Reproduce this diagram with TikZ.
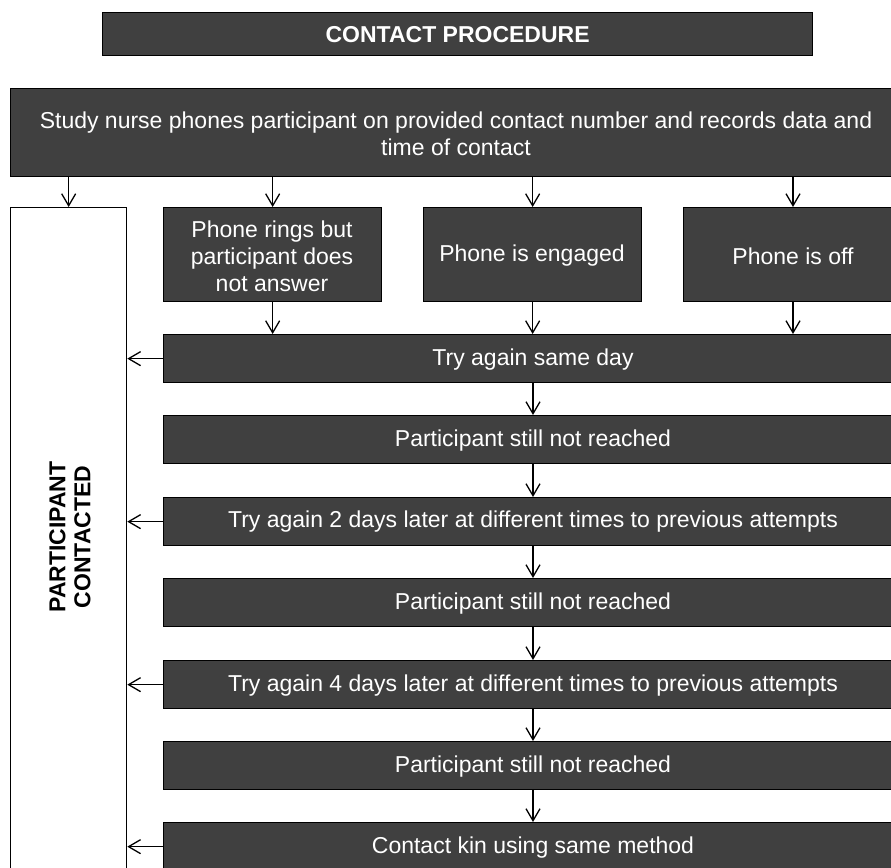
\documentclass[tikz,border=0pt]{standalone}
\usepackage{fontspec}
\setmainfont{Liberation Sans}
\usetikzlibrary{arrows.meta}
\definecolor{boxgray}{HTML}{404040}
\begin{document}
\begin{tikzpicture}[x=1pt,y=-1pt,
  box/.style={draw=black,line width=1.3pt,fill=boxgray,text=white,anchor=north west,inner sep=0pt,align=center,font=\fontsize{23}{27}\selectfont},
  arr/.style={-{Straight Barb[length=12pt,width=14pt,line width=1.3pt]},line width=1.3pt,black}]
\useasboundingbox (0,0) rectangle (891,867);
\clip (0,0) rectangle (891,867);
\fill[white] (0,0) rectangle (891,867);
% title
\node[box,minimum width=710pt,minimum height=43pt,font=\bfseries\fontsize{23}{27}\selectfont] (title) at (102,12) {CONTACT PROCEDURE};
% main
\node[box,minimum width=890pt,minimum height=88pt] (main) at (10,88) {};
\node[text=white,align=center,font=\fontsize{23}{27}\selectfont] (maintxt) at (456,134) {Study nurse phones participant on provided contact number and records data and\\time of contact};
% left white box
\node[draw=black,line width=1.3pt,fill=white,anchor=north west,minimum width=116pt,minimum height=700pt,inner sep=0pt] (left) at (10,207) {};
\node[rotate=90,align=center,font=\bfseries\fontsize{23}{25}\selectfont] (lefttxt) at (70,537) {PARTICIPANT\\CONTACTED};
% phone boxes
\node[box,minimum width=218pt,minimum height=94pt] (rings) at (163,207) {};
\node[text=white,align=center,font=\fontsize{23}{27}\selectfont] (ringstxt) at (272,256) {Phone rings but\\participant does\\not answer};
\node[box,minimum width=218pt,minimum height=94pt] (engaged) at (423,207) {};
\node[text=white,font=\fontsize{23}{27}\selectfont] (engagedtxt) at (532,256) {Phone is engaged};
\node[box,minimum width=230pt,minimum height=94pt] (off) at (683,207) {};
\node[text=white,font=\fontsize{23}{27}\selectfont] (offtxt) at (793,256) {Phone is off};
% steps
\node[box,minimum width=745pt,minimum height=48pt] (s1) at (163,334) {};
\node[box,minimum width=745pt,minimum height=48pt] (s2) at (163,415) {};
\node[box,minimum width=745pt,minimum height=48pt] (s3) at (163,497) {};
\node[box,minimum width=745pt,minimum height=48pt] (s4) at (163,578) {};
\node[box,minimum width=745pt,minimum height=48pt] (s5) at (163,660) {};
\node[box,minimum width=745pt,minimum height=48pt] (s6) at (163,741) {};
\node[box,minimum width=745pt,minimum height=48pt] (s7) at (163,822) {};
\tikzset{st/.style={text=white,font=\fontsize{23}{27}\selectfont}}
\node[st] (t1) at (533,360) {Try again same day};
\node[st] (t2) at (533,441) {Participant still not reached};
\node[st] (t3) at (533,522) {Try again 2 days later at different times to previous attempts};
\node[st] (t4) at (533,604) {Participant still not reached};
\node[st] (t5) at (533,686) {Try again 4 days later at different times to previous attempts};
\node[st] (t6) at (533,767) {Participant still not reached};
\node[st] (t7) at (533,848) {Contact kin using same method};
% arrows from main
\draw[arr] (main.south -| left.north) -- (left.north);
\draw[arr] (main.south -| rings.north) -- (rings.north);
\draw[arr] (main.south -| engaged.north) -- (engaged.north);
\draw[arr] (main.south -| offtxt) -- (offtxt |- off.north);
% phone to s1
\draw[arr] (rings.south) -- (rings.south |- s1.north);
\draw[arr] (engaged.south) -- (engaged.south |- s1.north);
\draw[arr] (offtxt |- off.south) -- (offtxt |- s1.north);
% chain
\draw[arr] (t1 |- s1.south) -- (t1 |- s2.north);
\draw[arr] (t2 |- s2.south) -- (t2 |- s3.north);
\draw[arr] (t3 |- s3.south) -- (t3 |- s4.north);
\draw[arr] (t4 |- s4.south) -- (t4 |- s5.north);
\draw[arr] (t5 |- s5.south) -- (t5 |- s6.north);
\draw[arr] (t6 |- s6.south) -- (t6 |- s7.north);
% left arrows
\draw[arr] (s1.west |- s1.center) -- (left.east |- s1.center);
\draw[arr] (s3.west |- s3.center) -- (left.east |- s3.center);
\draw[arr] (s5.west |- s5.center) -- (left.east |- s5.center);
\draw[arr] (s7.west |- s7.center) -- (left.east |- s7.center);
\end{tikzpicture}
\end{document}
